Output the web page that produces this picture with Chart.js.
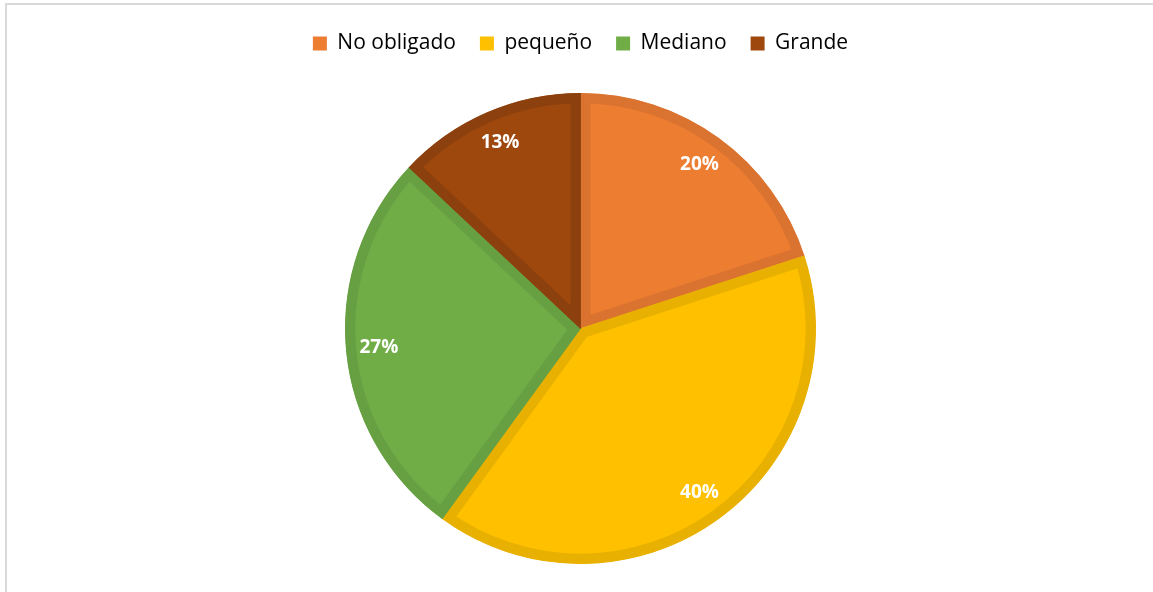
<!DOCTYPE html>
<html>
<head>
<meta charset="utf-8">
<script src="https://cdn.jsdelivr.net/npm/chart.js@4/dist/chart.umd.min.js"></script>
<style>
  html, body { margin: 0; padding: 0; background: #fff; overflow: hidden; }
  #frame {
    position: absolute; left: 5px; top: 3px; width: 1160px; height: 600px;
    border: 2px solid #d9d9d9; box-sizing: border-box;
  }
  #wrap { position: absolute; left: 0; top: 0; width: 1153px; height: 592px; }
</style>
</head>
<body>
<div id="frame"></div>
<div id="wrap"><canvas id="grafico"></canvas></div>
<script>
// Datos
const categorias = ['No obligado', 'pequeño', 'Mediano', 'Grande'];
const porcentajes = [20, 40, 27, 13];
const etiquetas = ['20%', '40%', '27%', '13%'];

const relleno = ['#ED7D31', '#FFC000', '#70AD47', '#9E480E'];
const borde = ['#DB7330', '#E8B000', '#66A043', '#8C400D'];

// Etiquetas blancas dentro de cada porción
const etiquetasPlugin = {
    id: 'etiquetasPie',
    afterDatasetsDraw(chart) {
        const ctx = chart.ctx;
        const meta = chart.getDatasetMeta(0);
        ctx.save();
        ctx.font = 'bold 19px "Open Sans", sans-serif';
        ctx.fillStyle = '#ffffff';
        ctx.textAlign = 'center';
        ctx.textBaseline = 'middle';
        meta.data.forEach(function(arc, i) {
            const p = arc.getProps(['x', 'y', 'startAngle', 'endAngle', 'outerRadius'], true);
            const ang = (p.startAngle + p.endAngle) / 2;
            const r = p.outerRadius * 0.86;
            ctx.fillText(etiquetas[i], p.x + Math.cos(ang) * r, p.y + Math.sin(ang) * r);
        });
        ctx.restore();
    }
};

// Espacio extra bajo la leyenda
const espacioLeyenda = {
    id: 'espacioLeyenda',
    beforeInit(chart) {
        const fitOriginal = chart.legend.fit;
        chart.legend.fit = function() {
            fitOriginal.bind(chart.legend)();
            this.height += 29;
        };
    }
};

const ctx = document.getElementById('grafico').getContext('2d');
new Chart(ctx, {
    type: 'pie',
    data: {
        labels: categorias,
        datasets: [{
            data: porcentajes,
            backgroundColor: relleno,
            borderColor: borde,
            borderWidth: 10,
            borderAlign: 'inner'
        }]
    },
    options: {
        responsive: true,
        maintainAspectRatio: false,
        animation: false,
        layout: { padding: { top: 9, bottom: 28, left: 8 } },
        plugins: {
            legend: {
                position: 'top',
                labels: {
                    boxWidth: 14,
                    boxHeight: 14,
                    padding: 24,
                    color: '#000',
                    font: { family: '"Open Sans", sans-serif', size: 21 },
                    generateLabels: function(chart) {
                        return categorias.map(function(c, i) {
                            return { text: c, fillStyle: relleno[i], strokeStyle: relleno[i], lineWidth: 0, index: i };
                        });
                    }
                }
            },
            tooltip: { enabled: false }
        }
    },
    plugins: [etiquetasPlugin, espacioLeyenda]
});
</script>
</body>
</html>
